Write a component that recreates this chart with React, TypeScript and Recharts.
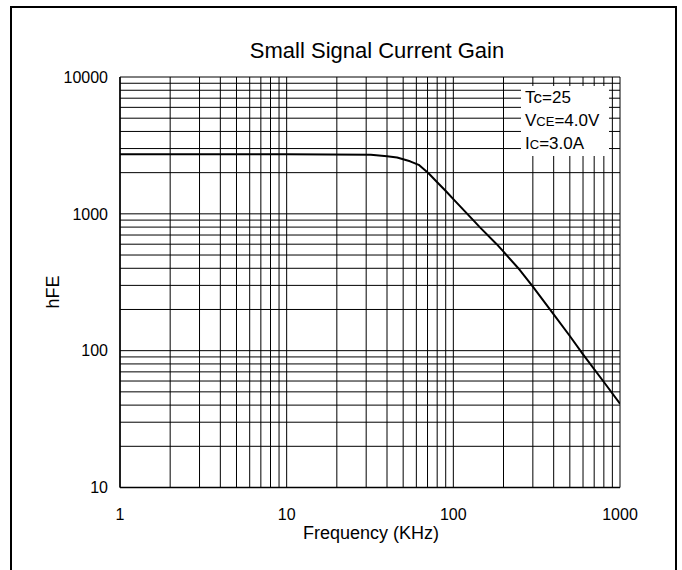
import { LineChart, Line, XAxis, YAxis, CartesianGrid, Label } from "recharts";

// curve (frequency in kHz, small signal gain hFE)
const frequency = [1, 10, 32, 40, 46, 55, 62, 71, 80, 91, 100, 132, 144, 182, 200, 250, 300, 400, 500, 600, 800, 1000];
const hfe = [2720, 2720, 2700, 2640, 2580, 2420, 2280, 1980, 1700, 1450, 1280, 895, 800, 600, 529, 390, 294, 184, 128, 94, 59, 41];

// log grid lines
const xGridTicks = [
  1, 2, 3, 4, 5, 6, 7, 8, 9,
  10, 20, 30, 40, 50, 60, 70, 80, 90,
  100, 200, 300, 400, 500, 600, 700, 800, 900,
  1000,
];
const yGridTicks = [
  10, 20, 30, 40, 50, 60, 70, 80, 90,
  100, 200, 300, 400, 500, 600, 700, 800, 900,
  1000, 2000, 3000, 4000, 5000, 6000, 7000, 8000, 9000,
  10000,
];
const xTickLabels = [1, 10, 100, 1000];
const yTickLabels = [10, 100, 1000, 10000];

const data = frequency.map((f, i) => ({ f, hfe: hfe[i] }));

const font = "'Liberation Sans', Arial, sans-serif";

export default function App() {
  return (
    <div
      style={{
        position: "absolute",
        left: 0,
        top: 0,
        width: 682,
        height: 570,
        background: "#fff",
        fontFamily: font,
      }}
    >
      <LineChart
        width={682}
        height={570}
        data={data}
        margin={{ top: 77, right: 62, bottom: 52.5, left: 60 }}
      >
        <CartesianGrid stroke="#000" strokeWidth={1} />
        <XAxis
          dataKey="f"
          type="number"
          scale="log"
          domain={[1, 1000]}
          ticks={xGridTicks}
          interval={0}
          allowDataOverflow
          height={30}
          tickFormatter={(v) => (xTickLabels.includes(v) ? String(v) : "")}
          tickLine={false}
          tickSize={0}
          tickMargin={21}
          axisLine={{ stroke: "#000", strokeWidth: 1.5 }}
          tick={{ fill: "#000", fontSize: 16, fontFamily: font }}
        >
          <Label
            content={() => (
              <text x={371} y={539} textAnchor="middle" fontSize={18} fontFamily={font} fill="#000">
                Frequency (KHz)
              </text>
            )}
          />
        </XAxis>
        <YAxis
          type="number"
          scale="log"
          domain={[10, 10000]}
          ticks={yGridTicks}
          interval={0}
          allowDataOverflow
          width={60}
          tickFormatter={(v) => (yTickLabels.includes(v) ? String(v) : "")}
          tickLine={false}
          tickSize={0}
          tickMargin={12}
          axisLine={{ stroke: "#000", strokeWidth: 1.5 }}
          tick={{ fill: "#000", fontSize: 16, fontFamily: font }}
        >
          <Label
            content={() => (
              <text
                x={59}
                y={292}
                transform="rotate(-90 59 292)"
                textAnchor="middle"
                fontSize={18}
                fontFamily={font}
                fill="#000"
              >
                hFE
              </text>
            )}
          />
        </YAxis>
        <Line
          dataKey="hfe"
          type="linear"
          stroke="#000"
          strokeWidth={2}
          strokeLinejoin="round"
          dot={false}
          isAnimationActive={false}
        />
      </LineChart>

      {/* frame, title and conditions box */}
      <svg
        width={682}
        height={570}
        style={{ position: "absolute", left: 0, top: 0, pointerEvents: "none" }}
      >
        <rect x={11} y={7} width={665} height={620} fill="none" stroke="#000" strokeWidth={2} />
        <text x={377} y={58} textAnchor="middle" fontSize={22} fontFamily={font} fill="#000">
          Small Signal Current Gain
        </text>
        <rect x={521} y={86} width={88} height={70} fill="#fff" />
        <g fontFamily={font} fontSize={17} fill="#000">
          <text x={525} y={103}>
            Tc=25
          </text>
          <text x={525} y={126}>
            V<tspan fontSize={13}>CE</tspan>=4.0V
          </text>
          <text x={525} y={149}>
            I<tspan fontSize={13}>C</tspan>=3.0A
          </text>
        </g>
      </svg>
    </div>
  );
}
